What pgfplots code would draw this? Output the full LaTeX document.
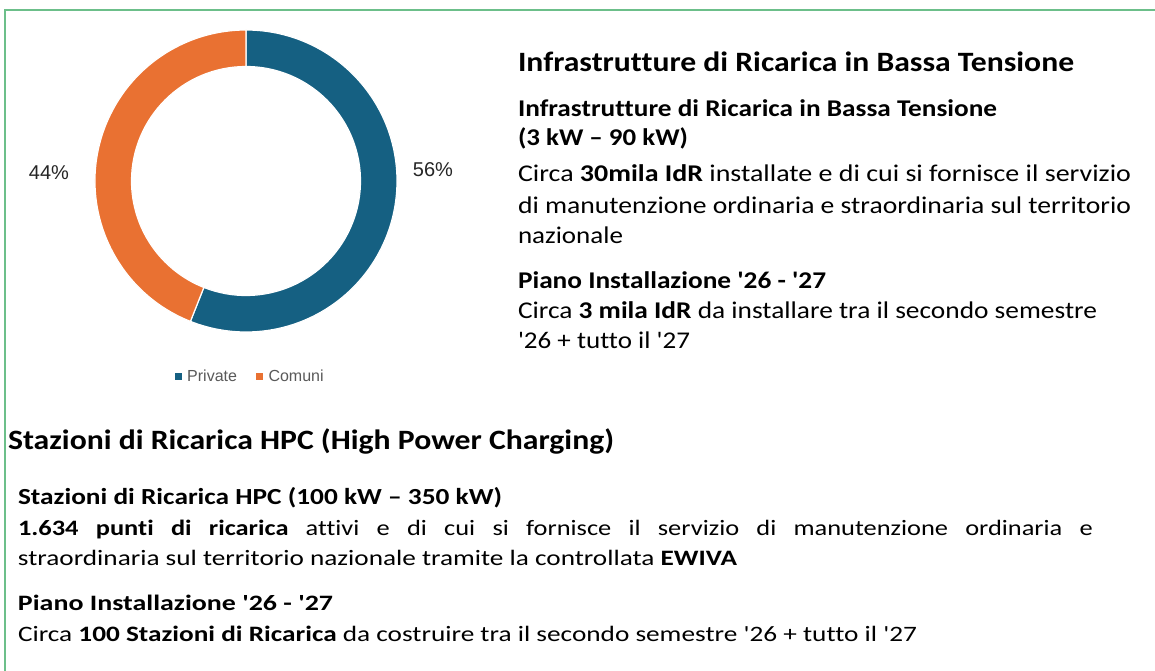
\documentclass[border=0pt]{standalone}
\usepackage{pgfplots}
\pgfplotsset{compat=1.18}
\usepackage{pgfplotstable}
\usepackage{graphicx}
\usepackage{fontspec}
\setmainfont{Carlito}[Ligatures={TeXOff,NoCommon}]
\newfontfamily\arialf{Liberation Sans}
\definecolor{cblue}{HTML}{156082}
\definecolor{corange}{HTML}{E97132}
\definecolor{cgreen}{HTML}{6CBF8A}
\definecolor{cgray}{HTML}{595959}

\pgfplotstableread{
label share
Private 56
Comuni 44
}\donutdata

% x, y (from top), width, size, text
\newcommand\tl[5]{%
  \node[anchor=base west, inner sep=0pt, outer sep=0pt] at (#1bp,671bp-#2bp)
    {\fontsize{#4bp}{#4bp}\selectfont\resizebox{#3bp}{\height}{#5}};}

\begin{document}
\begin{tikzpicture}
\useasboundingbox (0,0) rectangle (1155bp,671bp);
\fill[white] (0,0) rectangle (1155bp,671bp);
\draw[cgreen, line width=2bp] (4.5bp,0bp) -- (4.5bp,661bp) -- (1155bp,661bp);

\pgfplotstablegetelem{0}{share}\of\donutdata
\pgfmathtruncatemacro\sA{\pgfplotsretval}
\pgfplotstablegetelem{1}{share}\of\donutdata
\pgfmathtruncatemacro\sB{\pgfplotsretval}
\pgfmathsetmacro\fracA{\sA/(\sA+\sB)}
\pgfmathsetmacro\aEnd{90-360*\fracA}
\def\Ro{151}
\def\Ri{114.5}

\begin{axis}[
  at={(246bp,490bp)}, anchor=center,
  scale only axis, width=320bp, height=320bp,
  xmin=-160, xmax=160, ymin=-160, ymax=160,
  hide axis, clip=false,
  legend columns=2,
  legend image code/.code={\path[#1] (0bp,-3.4bp) rectangle (6.8bp,3.4bp); \path (12.5bp,0bp);},
  legend style={draw=none, fill=none,
    font=\arialf\fontsize{16bp}{16bp}\selectfont\color{cgray},
    at={(axis description cs:0.510,-0.111)}, anchor=center,
    nodes={inner sep=0pt},
    /tikz/every even column/.append style={column sep=19bp},
    inner sep=0pt},
]
\addlegendimage{fill=cblue, draw=none}
\addlegendentry{Private}
\addlegendimage{fill=corange, draw=none}
\addlegendentry{Comuni}

\fill[cblue, draw=white, line width=1.2bp]
  (axis cs:0,\Ro) arc[start angle=90, end angle=\aEnd, radius=\Ro bp]
  -- (axis cs:{\Ri*cos(\aEnd)},{\Ri*sin(\aEnd)})
  arc[start angle=\aEnd, end angle=90, radius=\Ri bp] -- cycle;
\fill[corange, draw=white, line width=1.2bp]
  (axis cs:{\Ro*cos(\aEnd)},{\Ro*sin(\aEnd)}) arc[start angle=\aEnd, end angle=-270, radius=\Ro bp]
  -- (axis cs:0,\Ri)
  arc[start angle=-270, end angle=\aEnd, radius=\Ri bp] -- cycle;

\node[font=\arialf\fontsize{20bp}{20bp}\selectfont, text=black!85, inner sep=0pt]
  at (axis cs:187,11) {\sA\%};
\node[font=\arialf\fontsize{20bp}{20bp}\selectfont, text=black!85, inner sep=0pt]
  at (axis cs:-197,8) {\sB\%};
\end{axis}

% right block
\tl{518}{72}{556}{28}{\bfseries Infrastrutture di Ricarica in Bassa Tensione}
\tl{518}{116.7}{479}{24}{\bfseries Infrastrutture di Ricarica in Bassa Tensione}
\tl{518}{146}{170}{24}{\bfseries (3 kW – 90 kW)}
\tl{518}{181.7}{613}{24}{Circa \textbf{30mila IdR} installate e di cui si fornisce il servizio}
\tl{518}{213.3}{613}{24}{di manutenzione ordinaria e straordinaria sul territorio}
\tl{518}{243.3}{105}{24}{nazionale}
\tl{518}{288.3}{308}{24}{\bfseries Piano Installazione '26 - '27}
\tl{518}{318.3}{579}{24}{Circa \textbf{3 mila IdR} da installare tra il secondo semestre}
\tl{518}{348.3}{172}{24}{'26 + tutto il '27}

% bottom block
\tl{8}{450}{606}{28}{\bfseries Stazioni di Ricarica HPC (High Power Charging)}
\tl{18}{505}{484}{23}{\bfseries Stazioni di Ricarica HPC (100 kW – 350 kW)}
\node[anchor=base west, inner sep=0pt, outer sep=0pt] at (18bp,671bp-536bp)
  {\fontsize{22bp}{22bp}\selectfont\scalebox{1.2}[1]{\makebox[895.8bp][s]{\textbf{1.634 punti di ricarica} attivi e di cui si fornisce il servizio di manutenzione ordinaria e}}};
\tl{18}{566}{719}{22}{straordinaria sul territorio nazionale tramite la controllata \textbf{EWIVA}}
\tl{18}{611}{315}{22}{\bfseries Piano Installazione '26 - '27}
\tl{18}{642}{899}{22}{Circa \textbf{100 Stazioni di Ricarica} da costruire tra il secondo semestre '26 + tutto il '27}
\end{tikzpicture}
\end{document}
